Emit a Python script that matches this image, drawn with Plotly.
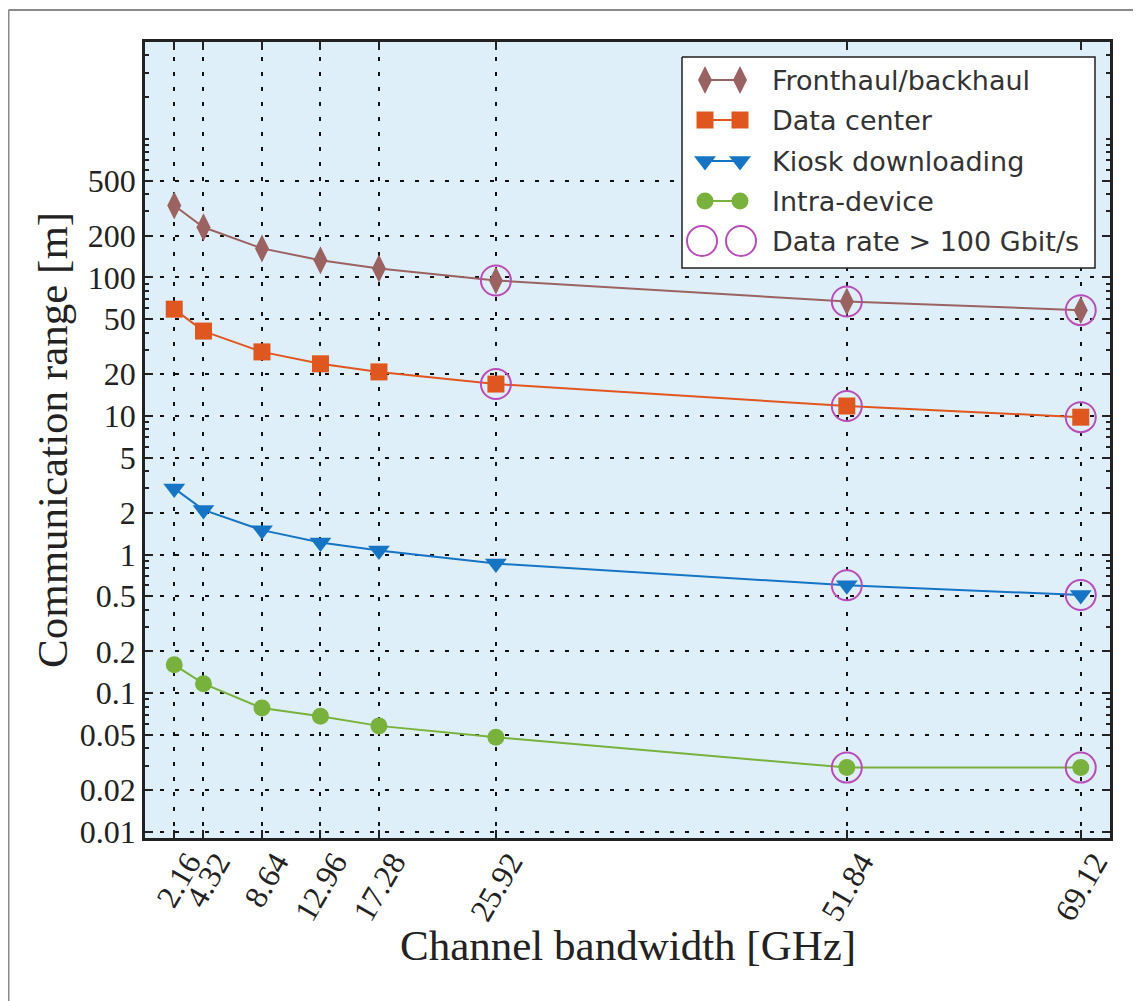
import plotly.graph_objects as go
import math

# ---------------- data ----------------
bandwidth = [2.16, 4.32, 8.64, 12.96, 17.28, 25.92, 51.84, 69.12]
x_tick_labels = ["2.16", "4.32", "8.64", "12.96", "17.28", "25.92", "51.84", "69.12"]

fronthaul = [330, 230, 162, 133, 116, 95, 67, 58]
data_center = [59, 41, 29, 23.8, 20.8, 17, 11.8, 9.8]
kiosk = [3.0, 2.1, 1.5, 1.22, 1.07, 0.86, 0.6, 0.51]
intra = [0.16, 0.117, 0.078, 0.068, 0.058, 0.048, 0.029, 0.029]

# points where data rate > 100 Gbit/s (index into bandwidth)
hi_rate_fronthaul = [5, 6, 7]
hi_rate_data_center = [5, 6, 7]
hi_rate_kiosk = [6, 7]
hi_rate_intra = [6, 7]

y_tick_vals = [0.01, 0.02, 0.05, 0.1, 0.2, 0.5, 1, 2, 5, 10, 20, 50, 100, 200, 500]
y_tick_text = ["0.01", "0.02", "0.05", "0.1", "0.2", "0.5", "1", "2", "5", "10", "20", "50", "100", "200", "500"]

series_names = ["Fronthaul/backhaul", "Data center", "Kiosk downloading", "Intra-device"]
circle_name = "Data rate > 100 Gbit/s"

# ---------------- style ----------------
C_FH = "#9b6262"
C_DC = "#e0561f"
C_KI = "#1674c4"
C_IN = "#78b23c"
C_CIRC = "#b84cb8"
BG = "#dfeffa"
SERIF = "Liberation Serif, Times New Roman, serif"
SANS = "DejaVu Sans, sans-serif"

OFF = 8  # page body margin offset
W, H = 1141, 1001
L, R, T, B = 145 - OFF, 1110 - OFF, 42 - OFF, 838 - OFF  # plot area in figure pixels

fig = go.Figure()

styles = [
    (fronthaul, C_FH, "diamond-tall", 20, hi_rate_fronthaul),
    (data_center, C_DC, "square", 17, hi_rate_data_center),
    (kiosk, C_KI, "triangle-down", 19, hi_rate_kiosk),
    (intra, C_IN, "circle", 17, hi_rate_intra),
]

for (vals, col, sym, sz, hi), name in zip(styles, series_names):
    fig.add_trace(go.Scatter(
        x=bandwidth, y=vals, mode="lines+markers", name=name,
        line=dict(color=col, width=2),
        marker=dict(symbol=sym, size=sz, color=col, line=dict(width=0)),
        hoverinfo="skip", showlegend=False,
    ))
    fig.add_trace(go.Scatter(
        x=[bandwidth[i] for i in hi], y=[vals[i] for i in hi], mode="markers",
        name=circle_name,
        marker=dict(symbol="circle-open", size=30, color=C_CIRC, line=dict(width=2, color=C_CIRC)),
        hoverinfo="skip", showlegend=False,
    ))

# ---------------- custom legend (overlay pixel axes, reference-pixel coordinates) ----------------
leg_x0, leg_x1, leg_y0, leg_y1 = 682, 1095, 57, 268
row_y = [80, 120, 161, 201, 241]
glyph_x = [705, 740]
legend_items = [
    (series_names[0], C_FH, "diamond-tall", 20, True),
    (series_names[1], C_DC, "square", 17, True),
    (series_names[2], C_KI, "triangle-down", 19, True),
    (series_names[3], C_IN, "circle", 17, True),
    (circle_name, C_CIRC, "circle-open", 30, False),
]

# legend frame (white box with dark border)
fig.add_trace(go.Scatter(
    x=[leg_x0, leg_x1, leg_x1, leg_x0, leg_x0], y=[leg_y0, leg_y0, leg_y1, leg_y1, leg_y0],
    xaxis="x2", yaxis="y2", mode="lines", fill="toself", fillcolor="white",
    line=dict(color="#222222", width=1.5), hoverinfo="skip", showlegend=False,
))

for (label, col, sym, sz, has_line), yy in zip(legend_items, row_y):
    gx = glyph_x if has_line else [702, 741]
    fig.add_trace(go.Scatter(
        x=gx, y=[yy, yy], xaxis="x2", yaxis="y2",
        mode="lines+markers" if has_line else "markers",
        line=dict(color=col, width=2),
        marker=dict(symbol=sym, size=sz, color=col,
                    line=dict(width=2 if sym.endswith("open") else 0, color=col)),
        hoverinfo="skip", showlegend=False,
    ))
    fig.add_annotation(
        x=770, y=yy, xref="x2", yref="y2", text=label, showarrow=False,
        xanchor="left", yanchor="middle",
        font=dict(family=SANS, size=27, color="#333333"),
    )


def px_to_paper_x(px):
    return (px - OFF - L) / (R - L)


def px_to_paper_y(py):
    return (B - (py - OFF)) / (B - T)


# outer grey frame lines (top and left)
fig.add_shape(type="line", xref="paper", yref="paper",
              x0=px_to_paper_x(8.5), x1=px_to_paper_x(W + OFF), y0=px_to_paper_y(10), y1=px_to_paper_y(10),
              line=dict(color="#8a8a8a", width=2))
fig.add_shape(type="line", xref="paper", yref="paper",
              x0=px_to_paper_x(8.5), x1=px_to_paper_x(8.5), y0=px_to_paper_y(10), y1=px_to_paper_y(H + OFF),
              line=dict(color="#8a8a8a", width=2))

# axis titles
fig.add_annotation(
    x=px_to_paper_x(52), y=0.5, xref="paper", yref="paper", text="Communication range [m]",
    showarrow=False, textangle=-90, xanchor="center", yanchor="middle",
    font=dict(family=SERIF, size=43, color="#222222"),
)
fig.add_annotation(
    x=px_to_paper_x(628), y=px_to_paper_y(945), xref="paper", yref="paper",
    text="Channel bandwidth [GHz]", showarrow=False, xanchor="center", yanchor="middle",
    font=dict(family=SERIF, size=43, color="#222222"),
)

grid_dash = "4px,11px"
fig.update_layout(
    width=W, height=H,
    margin=dict(l=L, r=W - R, t=T, b=H - B, pad=0),
    paper_bgcolor="white", plot_bgcolor=BG,
    showlegend=False, hovermode=False,
    xaxis=dict(
        range=[0, 71.28], tickmode="array", tickvals=bandwidth, ticktext=x_tick_labels,
        tickangle=-60, ticks="inside", ticklen=8, tickwidth=2, tickcolor="#222222",
        ticklabelshift=14, ticklabelstandoff=-10,
        showline=True, linecolor="#222222", linewidth=2.5, mirror="ticks",
        showgrid=True, gridcolor="#111111", gridwidth=2, griddash=grid_dash,
        zeroline=False,
        tickfont=dict(family=SERIF, size=32, color="#222222"),
    ),
    yaxis=dict(
        type="log", range=[math.log10(0.009), math.log10(5000)],
        tickmode="array", tickvals=y_tick_vals, ticktext=y_tick_text,
        ticks="inside", ticklen=8, tickwidth=2, tickcolor="#222222",
        showline=True, linecolor="#222222", linewidth=2.5, mirror="ticks",
        showgrid=True, gridcolor="#111111", gridwidth=2, griddash=grid_dash,
        zeroline=False,
        minor=dict(ticks="inside", ticklen=4, tickwidth=1.5, tickcolor="#222222", dtick="D1", showgrid=False),
        tickfont=dict(family=SERIF, size=32, color="#222222"),
    ),
    xaxis2=dict(range=[L + OFF, R + OFF], overlaying="x", visible=False, fixedrange=True),
    yaxis2=dict(range=[B + OFF, T + OFF], overlaying="y", visible=False, fixedrange=True),
)

fig.write_html("out.html")
